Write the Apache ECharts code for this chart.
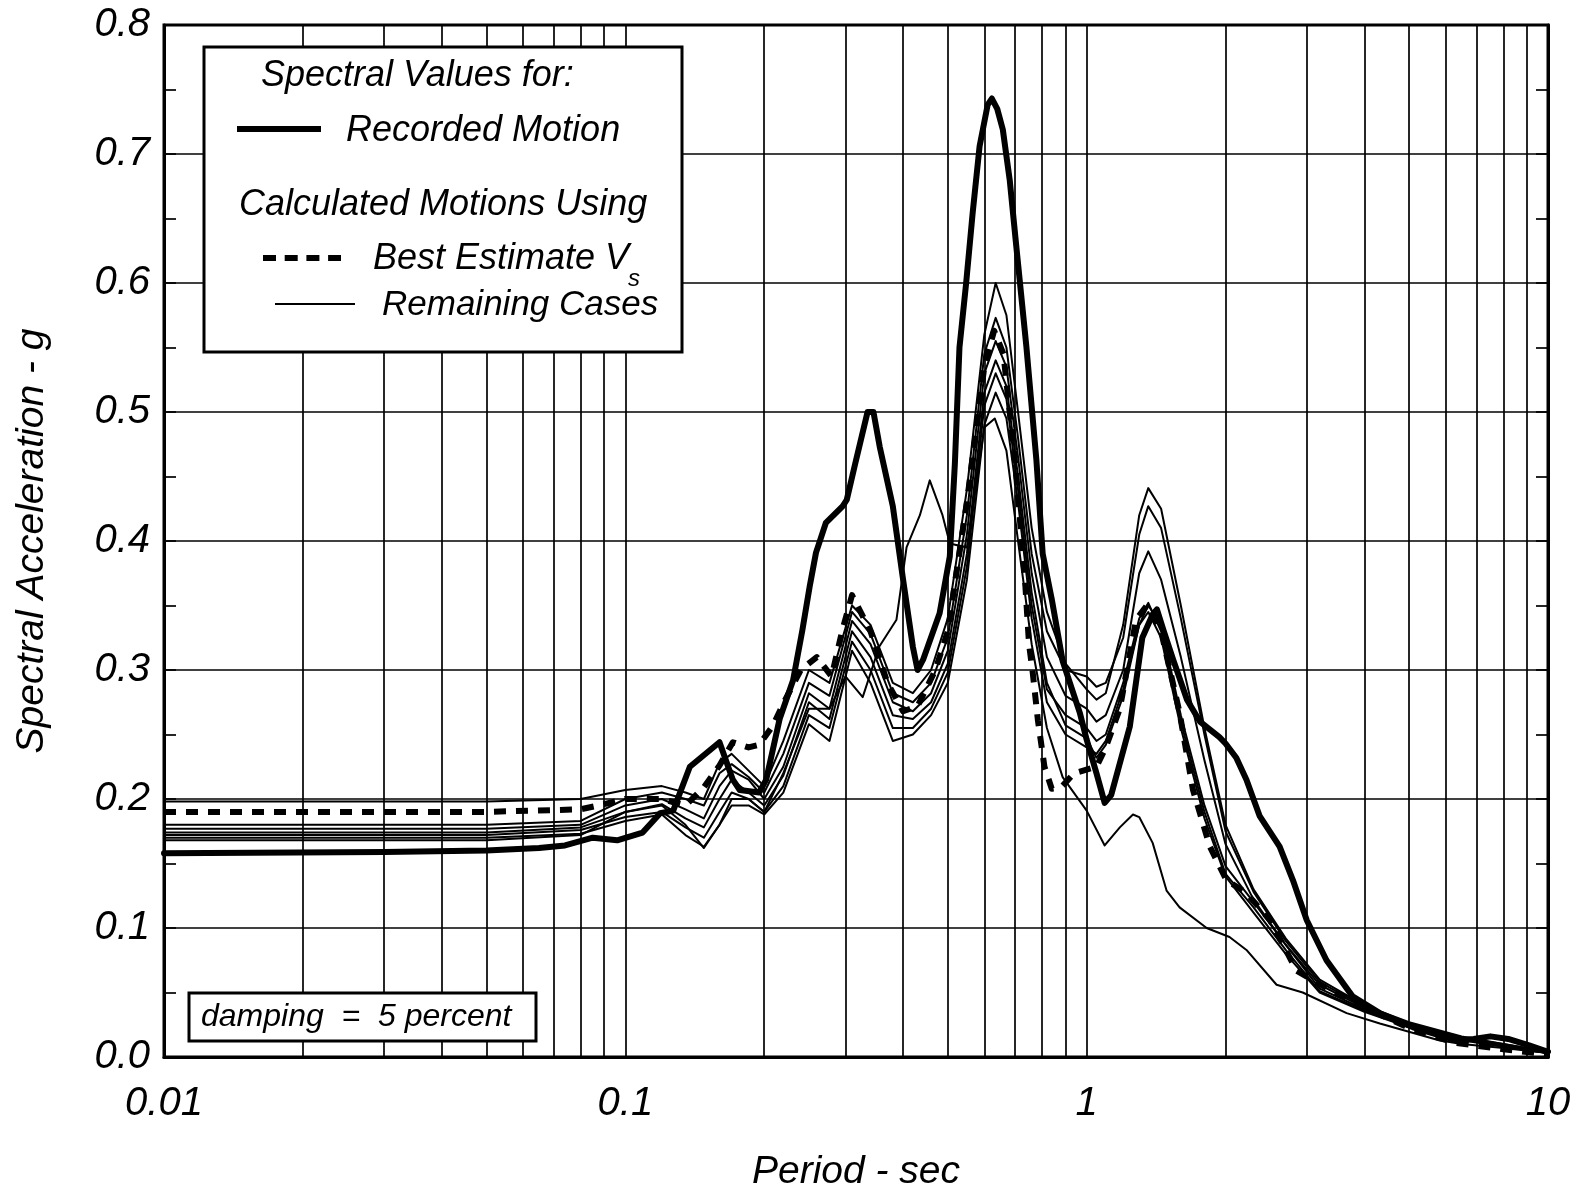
<!DOCTYPE html>
<html>
<head>
<meta charset="utf-8">
<title>Spectral Acceleration vs Period</title>
<script src="https://cdn.jsdelivr.net/npm/echarts@6/dist/echarts.min.js"></script>
<style>
  html, body { margin: 0; padding: 0; background: #fff; }
  #chart { width: 1578px; height: 1192px; }
</style>
</head>
<body>
<div id="chart"></div>
<script>
// Period (sec) and spectral acceleration (g) readings, 5 percent damping.

// Recorded motion: [period, Sa]
const recordedMotion = [
  [0.01,0.158],[0.03,0.159],[0.05,0.160],[0.065,0.162],[0.074,0.164],[0.085,0.170],[0.096,0.168],
  [0.109,0.174],[0.119,0.189],[0.127,0.191],[0.138,0.225],[0.16,0.244],[0.171,0.215],[0.177,0.207],
  [0.195,0.205],[0.202,0.215],[0.216,0.262],[0.231,0.292],[0.242,0.331],[0.251,0.365],[0.259,0.391],
  [0.272,0.414],[0.296,0.427],[0.302,0.432],[0.315,0.460],[0.335,0.500],[0.345,0.500],[0.356,0.473],
  [0.38,0.427],[0.40,0.370],[0.42,0.318],[0.43,0.300],[0.442,0.308],[0.48,0.344],[0.505,0.388],
  [0.518,0.460],[0.53,0.550],[0.548,0.600],[0.566,0.654],[0.586,0.706],[0.61,0.738],[0.623,0.743],
  [0.64,0.735],[0.658,0.719],[0.681,0.680],[0.704,0.628],[0.74,0.551],[0.778,0.463],[0.803,0.390],
  [0.84,0.355],[0.887,0.307],[0.966,0.267],[1.0,0.246],[1.05,0.220],[1.094,0.197],[1.13,0.203],
  [1.24,0.256],[1.32,0.325],[1.39,0.343],[1.42,0.347],[1.47,0.330],[1.54,0.308],[1.65,0.277],
  [1.76,0.260],[1.94,0.248],[2.0,0.243],[2.11,0.232],[2.22,0.215],[2.37,0.187],[2.62,0.163],
  [2.8,0.137],[3.0,0.106],[3.31,0.075],[3.77,0.047],[4.32,0.034],[5.1,0.023],[6.3,0.013],
  [6.9,0.014],[7.5,0.016],[8.2,0.014],[9.1,0.009],[10,0.004]
];

// Calculated motion, best estimate Vs: [period, Sa]
const bestEstimate = [
  [0.01,0.190],[0.05,0.190],[0.08,0.192],[0.09,0.196],[0.1,0.200],[0.12,0.200],[0.135,0.195],
  [0.148,0.209],[0.16,0.226],[0.171,0.244],[0.185,0.240],[0.195,0.242],[0.209,0.257],[0.22,0.274],
  [0.24,0.300],[0.26,0.310],[0.28,0.295],[0.295,0.330],[0.31,0.358],[0.34,0.330],[0.37,0.290],
  [0.40,0.268],[0.43,0.272],[0.47,0.300],[0.50,0.330],[0.55,0.430],[0.60,0.535],[0.63,0.563],
  [0.66,0.545],[0.70,0.460],[0.735,0.370],[0.75,0.320],[0.764,0.298],[0.784,0.261],[0.81,0.225],
  [0.84,0.208],[0.88,0.209],[0.94,0.220],[1.05,0.225],[1.1,0.240],[1.18,0.270],[1.28,0.339],
  [1.35,0.350],[1.45,0.330],[1.59,0.267],[1.7,0.207],[1.85,0.163],[2.01,0.137],[2.22,0.127],
  [2.5,0.106],[2.85,0.067],[3.37,0.052],[3.97,0.039],[5.1,0.021],[6.3,0.011],[8.0,0.006],[10,0.002]
];

// Remaining calculated cases share one period grid
const casePeriods = [
  0.01,0.05,0.08,0.1,0.12, 0.135,0.148,0.16,0.17,0.185, 0.2,0.22,0.25,0.277,0.31,
  0.34,0.38,0.42,0.46,0.5, 0.55,0.6,0.635,0.67,0.71, 0.76,0.82,0.9,1.0,1.05,
  1.1,1.2,1.3,1.36,1.45, 1.6,1.8,2.0,2.3,2.7, 3.2,4.0,5.0,6.5,8.0, 10
];
const caseA = [
  0.198,0.198,0.200,0.207,0.210, 0.205,0.200,0.228,0.235,0.222, 0.210,0.245,0.300,0.290,0.350,
  0.335,0.290,0.282,0.300,0.340, 0.440,0.560,0.600,0.575,0.500, 0.410,0.345,0.305,0.285,0.277,
  0.282,0.335,0.420,0.441,0.425, 0.350,0.255,0.180,0.130,0.092, 0.060,0.040,0.027,0.016,0.010, 0.004
];
const caseB = [
  0.180,0.180,0.183,0.200,0.205, 0.200,0.195,0.220,0.227,0.217, 0.205,0.235,0.290,0.280,0.345,
  0.328,0.282,0.275,0.290,0.325, 0.420,0.545,0.573,0.550,0.480, 0.390,0.330,0.300,0.295,0.287,
  0.290,0.325,0.405,0.427,0.410, 0.340,0.250,0.175,0.128,0.090, 0.058,0.039,0.026,0.015,0.010, 0.004
];
const caseC = [
  0.177,0.177,0.180,0.195,0.200, 0.192,0.185,0.210,0.222,0.215, 0.200,0.225,0.282,0.270,0.338,
  0.320,0.275,0.268,0.282,0.315, 0.405,0.530,0.555,0.535,0.465, 0.375,0.310,0.280,0.270,0.260,
  0.265,0.300,0.375,0.392,0.370, 0.310,0.230,0.165,0.122,0.087, 0.056,0.038,0.025,0.015,0.009, 0.004
];
const caseD = [
  0.174,0.174,0.178,0.190,0.196, 0.185,0.178,0.200,0.215,0.205, 0.195,0.218,0.275,0.262,0.330,
  0.310,0.265,0.262,0.275,0.305, 0.390,0.515,0.540,0.520,0.450, 0.360,0.290,0.257,0.247,0.232,
  0.242,0.280,0.335,0.350,0.335, 0.265,0.195,0.148,0.120,0.087, 0.053,0.037,0.024,0.014,0.009, 0.003
];
const caseE = [
  0.172,0.172,0.176,0.186,0.190, 0.178,0.170,0.190,0.205,0.200, 0.190,0.210,0.265,0.255,0.322,
  0.300,0.255,0.255,0.270,0.298, 0.380,0.505,0.530,0.510,0.440, 0.350,0.285,0.265,0.255,0.245,
  0.250,0.290,0.340,0.352,0.330, 0.260,0.190,0.142,0.116,0.083, 0.051,0.036,0.023,0.014,0.008, 0.003
];
const caseG = [
  0.170,0.170,0.173,0.183,0.188, 0.172,0.163,0.180,0.195,0.195, 0.188,0.205,0.258,0.245,0.315,
  0.290,0.245,0.250,0.265,0.290, 0.370,0.490,0.515,0.495,0.430, 0.340,0.275,0.250,0.240,0.235,
  0.245,0.285,0.335,0.345,0.325, 0.255,0.185,0.140,0.112,0.080, 0.050,0.035,0.023,0.013,0.008, 0.003
];
// Case with the early peak near 0.46 sec: [period, Sa]
const caseF = [
  [0.01,0.168],[0.05,0.168],[0.08,0.172],[0.1,0.190],[0.12,0.195],[0.135,0.180],[0.148,0.162],
  [0.16,0.180],[0.17,0.200],[0.185,0.200],[0.2,0.190],[0.22,0.220],[0.25,0.270],[0.277,0.270],
  [0.30,0.295],[0.327,0.279],[0.355,0.318],[0.387,0.339],[0.407,0.395],[0.435,0.420],[0.457,0.447],
  [0.487,0.420],[0.505,0.398],[0.55,0.395],[0.577,0.445],[0.60,0.488],[0.632,0.495],[0.67,0.470],
  [0.71,0.400],[0.76,0.320],[0.82,0.255],[0.887,0.217],[1.0,0.191],[1.094,0.164],[1.18,0.178],
  [1.26,0.188],[1.30,0.186],[1.39,0.166],[1.49,0.129],[1.59,0.116],[1.82,0.100],[2.04,0.093],
  [2.22,0.083],[2.58,0.056],[2.94,0.050],[3.66,0.034],[4.32,0.026],[5.8,0.013],[6.5,0.010],
  [8.0,0.007],[10,0.003]
];

// Axis ticks
const yTicks = [0, 0.1, 0.2, 0.3, 0.4, 0.5, 0.6, 0.7, 0.8];
const minorPeriods = [
  0.02,0.03,0.04,0.05,0.06,0.07,0.08,0.09,
  0.2,0.3,0.4,0.5,0.6,0.7,0.8,0.9,
  2,3,4,5,6,7,8,9
];

const FONT = '"Liberation Sans", Arial, Helvetica, sans-serif';
const zip = (xs, ys) => xs.map((x, i) => [x, ys[i]]);

const thinStyle = { color: '#000', width: 2, join: 'round', cap: 'round' };
const thinCases = [caseA, caseB, caseC, caseD, caseE, caseG].map(v => zip(casePeriods, v));
thinCases.push(caseF);

const series = [];
// vertical grid lines between decades
series.push({
  type: 'line', data: [], silent: true, z: 1,
  markLine: {
    silent: true, symbol: ['none', 'none'], label: { show: false }, animation: false,
    lineStyle: { color: '#000', width: 1.7, type: 'solid' },
    emphasis: { disabled: true },
    data: minorPeriods.map(p => ({ xAxis: p }))
  }
});
thinCases.forEach(d => series.push({
  type: 'line', data: d, showSymbol: false, symbol: 'none', silent: true, z: 3,
  lineStyle: thinStyle
}));
series.push({
  type: 'line', data: bestEstimate, showSymbol: false, symbol: 'none', silent: true, z: 4,
  lineStyle: { color: '#000', width: 6, type: [12, 10], cap: 'butt', join: 'round' }
});
series.push({
  type: 'line', data: recordedMotion, showSymbol: false, symbol: 'none', silent: true, z: 5,
  lineStyle: { color: '#000', width: 6, join: 'round', cap: 'round' }
});

const txt = (x, y, text, size) => ({
  type: 'text', x: x, y: y, z: 102, silent: true,
  style: { text: text, font: 'italic ' + size + 'px ' + FONT, fill: '#000', verticalAlign: 'middle', align: 'left' }
});

const chart = echarts.init(document.getElementById('chart'), null, { renderer: 'canvas' });
chart.setOption({
  animation: false,
  backgroundColor: '#fff',
  grid: {
    left: 164, right: 30, top: 25, bottom: 135,
    outerBoundsMode: 'none', containLabel: false,
    show: true, borderColor: '#000', borderWidth: 3, backgroundColor: 'transparent'
  },
  xAxis: {
    type: 'log', logBase: 10, min: 0.01, max: 10,
    name: 'Period - sec', nameLocation: 'middle', nameGap: 96,
    nameTextStyle: { fontFamily: FONT, fontStyle: 'italic', fontSize: 39, color: '#000' },
    axisLine: { show: true, lineStyle: { color: '#000', width: 3 } },
    axisTick: { show: false },
    axisLabel: {
      fontFamily: FONT, fontStyle: 'italic', fontSize: 40, color: '#000', margin: 27,
      formatter: v => String(+v.toPrecision(3))
    },
    splitLine: { show: true, lineStyle: { color: '#000', width: 1.7 } }
  },
  yAxis: [{
    type: 'value', min: yTicks[0], max: yTicks[yTicks.length - 1], interval: 0.1,
    name: 'Spectral Acceleration - g', nameLocation: 'middle', nameGap: 112,
    nameTextStyle: { fontFamily: FONT, fontStyle: 'italic', fontSize: 39, color: '#000' },
    axisLine: { show: true, lineStyle: { color: '#000', width: 3 } },
    axisTick: { show: true, inside: true, length: 12, lineStyle: { color: '#000', width: 1.7 } },
    minorTick: { show: true, splitNumber: 2, length: 12, lineStyle: { color: '#000', width: 1.7 } },
    axisLabel: {
      fontFamily: FONT, fontStyle: 'italic', fontSize: 40, color: '#000', margin: 14,
      formatter: v => v.toFixed(1)
    },
    splitLine: { show: true, lineStyle: { color: '#000', width: 1.7 } }
  }, {
    type: 'value', position: 'right', min: yTicks[0], max: yTicks[yTicks.length - 1], interval: 0.1,
    axisLine: { show: true, lineStyle: { color: '#000', width: 3 } },
    axisTick: { show: true, inside: true, length: 12, lineStyle: { color: '#000', width: 1.7 } },
    minorTick: { show: true, splitNumber: 2, length: 12, lineStyle: { color: '#000', width: 1.7 } },
    axisLabel: { show: false },
    splitLine: { show: false }
  }],
  series: series,
  graphic: [
    // legend box
    { type: 'rect', z: 100, silent: true,
      shape: { x: 204, y: 47, width: 478, height: 305 },
      style: { fill: '#fff', stroke: '#000', lineWidth: 3 } },
    txt(261, 76, 'Spectral Values for:', 36),
    { type: 'line', z: 102, silent: true, shape: { x1: 237, y1: 129, x2: 321, y2: 129 },
      style: { stroke: '#000', lineWidth: 6 } },
    txt(346, 131, 'Recorded Motion', 36),
    txt(239, 205, 'Calculated Motions Using', 36),
    { type: 'line', z: 102, silent: true, shape: { x1: 263, y1: 258, x2: 341, y2: 258 },
      style: { stroke: '#000', lineWidth: 6, lineDash: [13, 8.7] } },
    txt(373, 259, 'Best Estimate V', 36),
    txt(628, 279, 's', 24),
    { type: 'line', z: 102, silent: true, shape: { x1: 275, y1: 304, x2: 355, y2: 304 },
      style: { stroke: '#000', lineWidth: 2 } },
    txt(382, 305, 'Remaining Cases', 35),
    // damping note
    { type: 'rect', z: 100, silent: true,
      shape: { x: 189, y: 993, width: 347, height: 48 },
      style: { fill: '#fff', stroke: '#000', lineWidth: 3 } },
    txt(201, 1017, 'damping  =  5 percent', 32)
  ]
});
</script>
</body>
</html>
